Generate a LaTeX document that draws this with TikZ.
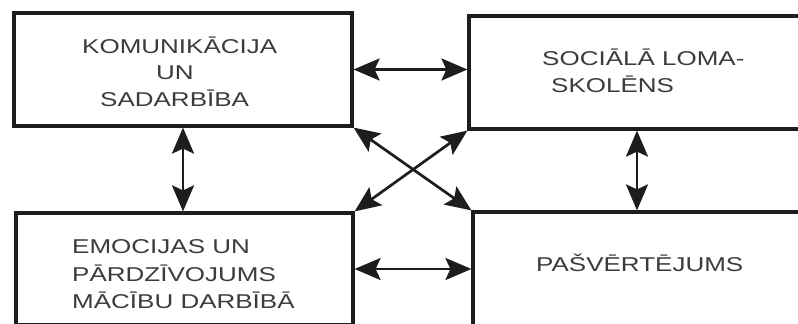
\documentclass[tikz,border=0pt]{standalone}
\usepackage{fontspec}
\usepackage{graphicx}
\setmainfont{Liberation Sans}
\usetikzlibrary{arrows.meta}
\definecolor{ink}{HTML}{1F1C1D}
\definecolor{txt}{HTML}{3C3C3C}
\newcommand{\widetxt}[1]{\scalebox{1.3}[1]{#1}}
\tikzset{
  box/.style={draw=ink, line width=3.2pt, rectangle, inner sep=0pt},
  lbl/.style={anchor=base west, inner sep=0pt, text=txt, font=\fontsize{20}{24}\selectfont},
  tip/.tip={Stealth[length=26pt,width=22pt,inset=5pt]},
  link/.style={draw=ink, line width=2.7pt, tip-tip}
}
\begin{document}
\begin{tikzpicture}[x=1pt,y=1pt]
\useasboundingbox (0,0) rectangle (798,-324);
\clip (0,0) rectangle (798,-324);
\fill[white] (0,0) rectangle (798,-324);
% boxes
\node[box, minimum width=338pt, minimum height=113pt] (tl) at (183,-69.5) {};
\node[box, minimum width=336pt, minimum height=113pt] (tr) at (637,-72.5) {};
\node[box, minimum width=337pt, minimum height=112pt] (bl) at (184.5,-269) {};
\node[box, minimum width=332pt, minimum height=114pt] (br) at (639,-269) {};
% texts
\node[lbl] (t1) at (82,-53) {\widetxt{KOMUNIKĀCIJA}};
\node[lbl] (t2) at (156,-79) {\widetxt{UN}};
\node[lbl] (t3) at (100,-106) {\widetxt{SADARBĪBA}};
\node[lbl] (t4) at (542,-65) {\widetxt{SOCIĀLĀ LOMA-}};
\node[lbl] (t5) at (551,-92) {\widetxt{SKOLĒNS}};
\node[lbl] (t6) at (72,-253) {\widetxt{EMOCIJAS UN}};
\node[lbl] (t7) at (72,-281) {\widetxt{PĀRDZĪVOJUMS}};
\node[lbl] (t8) at (72,-308) {\widetxt{MĀCĪBU DARBĪBĀ}};
\node[lbl] (t9) at (536,-271) {\widetxt{PAŠVĒRTĒJUMS}};
% connectors
\draw[link] (tl.east) -- (tl.east -| tr.west);
\draw[link] (bl.east) -- (bl.east -| br.west);
\draw[link] (tl.south) -- (tl.south |- bl.north);
\draw[link] (tr.south) -- (tr.south |- br.north);
\draw[link] (tl.south east) -- (br.north west);
\draw[link] (bl.north east) -- (tr.south west);
\end{tikzpicture}
\end{document}
